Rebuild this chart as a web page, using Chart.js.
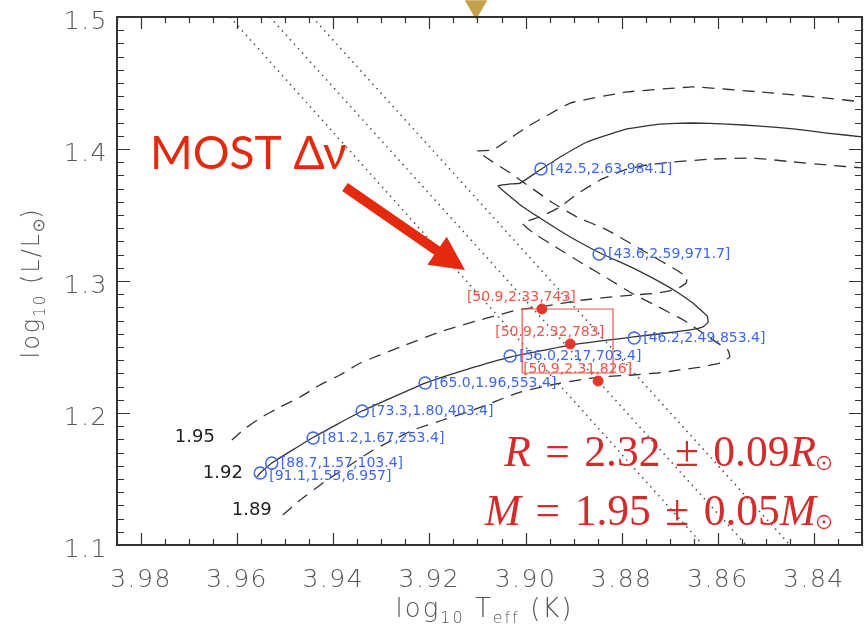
<!DOCTYPE html>
<html>
<head>
<meta charset="utf-8">
<script src="https://cdn.jsdelivr.net/npm/chart.js@4.4.0/dist/chart.umd.min.js"></script>
<style>
  html, body { margin: 0; padding: 0; background: #fff; }
</style>
</head>
<body>
<canvas id="hr" width="864" height="631"></canvas>
<script>
var xTicks = [3.98, 3.96, 3.94, 3.92, 3.90, 3.88, 3.86, 3.84];
var yTicks = [1.1, 1.2, 1.3, 1.4, 1.5];

// 1.92 Msun track (solid)
var trk192T = [3.9559, 3.9552, 3.9528, 3.9444, 3.9340, 3.9209, 3.9120, 3.9032, 3.8907, 3.8776, 3.8706, 3.8658, 3.8631, 3.8620,
  3.8622, 3.8631, 3.8652, 3.8685, 3.8720, 3.8776, 3.8845, 3.8907, 3.8970, 3.9011, 3.9057,
  3.9032, 3.9011, 3.8970, 3.8928, 3.8872, 3.8789, 3.8720, 3.8652, 3.8581, 3.8512, 3.8443, 3.8373, 3.8298];
var trk192L = [1.1515, 1.1545, 1.1621, 1.1811, 1.2015, 1.2227, 1.2333, 1.2424, 1.2515, 1.2576, 1.2606, 1.2629, 1.2652, 1.2689,
  1.2735, 1.2765, 1.2833, 1.2917, 1.2992, 1.3098, 1.3212, 1.3333, 1.3477, 1.3576, 1.3720,
  1.3735, 1.3742, 1.3841, 1.3939, 1.4053, 1.4152, 1.4189, 1.4197, 1.4189, 1.4174, 1.4152, 1.4121, 1.4091];

// 1.95 Msun track (dashed, upper)
var trk195T = [3.9611, 3.9588, 3.9552, 3.9511, 3.9469, 3.9428, 3.9386, 3.9344, 3.9261, 3.9178, 3.9095, 3.9018, 3.8970, 3.8880,
  3.8803, 3.8724, 3.8685, 3.8666, 3.8664, 3.8693, 3.8747, 3.8830, 3.8893, 3.8943, 3.9032, 3.9068, 3.9101,
  3.9068, 3.9022, 3.8997, 3.8907, 3.8789, 3.8652, 3.8512, 3.8373, 3.8298];
var trk195L = [1.1795, 1.1871, 1.1962, 1.2045, 1.2121, 1.2212, 1.2288, 1.2379, 1.2500, 1.2614, 1.2705, 1.2780, 1.2803, 1.2856,
  1.2886, 1.2909, 1.2939, 1.2985, 1.3030, 1.3098, 1.3212, 1.3386, 1.3485, 1.3591, 1.3818, 1.3902, 1.3985,
  1.3992, 1.4106, 1.4167, 1.4348, 1.4432, 1.4470, 1.4432, 1.4386, 1.4356];

// 1.89 Msun track (dashed, lower)
var trk189T = [3.9505, 3.9469, 3.9413, 3.9371, 3.9317, 3.9234, 3.9172, 3.9109, 3.9011, 3.8928, 3.8845, 3.8776, 3.8726, 3.8679,
  3.8637, 3.8595, 3.8575, 3.8579, 3.8616, 3.8668, 3.8731, 3.8780, 3.8824, 3.8880, 3.8934, 3.8984, 3.9007,
  3.8970, 3.8928, 3.8893, 3.8845, 3.8789, 3.8747, 3.8693, 3.8610, 3.8527, 3.8443, 3.8373, 3.8298];
var trk189L = [1.1227, 1.1341, 1.1492, 1.1591, 1.1720, 1.1871, 1.1947, 1.2023, 1.2159, 1.2227, 1.2273, 1.2288, 1.2303, 1.2326,
  1.2348, 1.2379, 1.2424, 1.2477, 1.2568, 1.2697, 1.2818, 1.2909, 1.3008, 1.3129, 1.3250, 1.3364, 1.3439,
  1.3485, 1.3561, 1.3659, 1.3765, 1.3848, 1.3879, 1.3902, 1.3924, 1.3932, 1.3902, 1.3879, 1.3856];

var trkNames = ['1.95', '1.92', '1.89'];

// constant large separation lines (dotted)
var dnuT = [[3.9615, 3.8631], [3.9532, 3.8541], [3.9444, 3.8450]];
var dnuL = [1.5, 1.1];

// model points along the 1.92 track
var modT = [3.9552, 3.9528, 3.9442, 3.9340, 3.9209, 3.9032, 3.8774, 3.8847, 3.8968];
var modL = [1.1545, 1.1621, 1.1811, 1.2015, 1.2227, 1.2432, 1.2568, 1.3205, 1.3848];
var modLabels = ['[91.1,1.55,6.957]', '[88.7,1.57,103.4]', '[81.2,1.67,253.4]', '[73.3,1.80,403.4]',
  '[65.0,1.96,553.4]', '[56.0,2.17,703.4]', '[46.2,2.49,853.4]', '[43.6,2.59,971.7]', '[42.5,2.63,984.1]'];

// best fitting models
var fitT = [3.8966, 3.8907, 3.8849];
var fitL = [1.2788, 1.2523, 1.2242];
var fitLabels = ['[50.9,2.33,743]', '[50.9,2.32,783]', '[50.9,2.31,826]'];

// error box
var boxT = [3.9007, 3.8818, 3.8818, 3.9007, 3.9007];
var boxL = [1.2788, 1.2788, 1.2303, 1.2303, 1.2788];

// marker above the frame
var markT = [3.9103];
var markL = [1.5078];

var BLUE = '#3e66ec';
var RED = '#f0554a';
var DARK = '#333';

function pts(t, l) {
  return t.map(function (v, i) { return { x: v, y: l[i] }; });
}

function sun(c, x, y, r) {
  c.beginPath(); c.arc(x, y, r, 0, 2 * Math.PI); c.stroke();
  c.beginPath(); c.arc(x, y, Math.max(1.2, r * 0.22), 0, 2 * Math.PI); c.fill();
}

function richWidth(c, segs) {
  var w = 0;
  segs.forEach(function (s) {
    if (s.sun) { w += 2 * s.sun + 3; } else { c.font = s.f; w += c.measureText(s.t).width; }
  });
  return w;
}

function drawRich(c, segs, x, y, align) {
  var w = richWidth(c, segs);
  var cx = align === 'right' ? x - w : (align === 'center' ? x - w / 2 : x);
  c.textAlign = 'left';
  c.textBaseline = 'alphabetic';
  segs.forEach(function (s) {
    if (s.sun) {
      sun(c, cx + s.sun + 1.5, y + (s.dy || 0), s.sun);
      cx += 2 * s.sun + 3;
    } else {
      c.font = s.f;
      c.fillText(s.t, cx, y + (s.dy || 0));
      cx += c.measureText(s.t).width;
    }
  });
}

var frame = {
  id: 'frame',
  afterDatasetsDraw: function (chart) {
    var c = chart.ctx, a = chart.chartArea, xs = chart.scales.x, ys = chart.scales.y;
    var k, p, len;
    c.save();
    c.strokeStyle = DARK;
    c.lineWidth = 1.2;
    c.beginPath();
    for (k = Math.ceil(xs.min / 0.005 - 1e-6); k <= Math.floor(xs.max / 0.005 + 1e-6); k++) {
      p = Math.round(xs.getPixelForValue(k * 0.005)) + 0.5;
      len = k % 4 === 0 ? 12 : 6;
      c.moveTo(p, a.bottom); c.lineTo(p, a.bottom - len);
      c.moveTo(p, a.top); c.lineTo(p, a.top + len);
    }
    for (k = Math.ceil(ys.min / 0.01 - 1e-6); k <= Math.floor(ys.max / 0.01 + 1e-6); k++) {
      p = Math.round(ys.getPixelForValue(k * 0.01)) + 0.5;
      len = k % 10 === 0 ? 13 : 7;
      c.moveTo(a.left, p); c.lineTo(a.left + len, p);
      c.moveTo(a.right, p); c.lineTo(a.right - len, p);
    }
    c.stroke();
    c.lineWidth = 2;
    c.strokeRect(a.left, a.top, a.right - a.left, a.bottom - a.top);
    c.restore();
  }
};

var notes = {
  id: 'notes',
  afterDatasetsDraw: function (chart) {
    var c = chart.ctx, a = chart.chartArea, xs = chart.scales.x, ys = chart.scales.y;
    c.save();
    c.letterSpacing = '0px';
    c.textBaseline = 'middle';
    c.textAlign = 'left';

    c.font = '14px "DejaVu Sans"';
    c.fillStyle = BLUE;
    modLabels.forEach(function (s, i) {
      c.fillText(s, xs.getPixelForValue(modT[i]) + 9, ys.getPixelForValue(modL[i]) + (i === 0 ? 3 : 0));
    });

    c.fillStyle = RED;
    fitLabels.forEach(function (s, i) {
      c.fillText(s, xs.getPixelForValue(fitT[i]) - 75, ys.getPixelForValue(fitL[i]) - 12);
    });

    // track masses, next to the start of each track
    c.font = '18px "DejaVu Sans"';
    c.fillStyle = '#222';
    c.textAlign = 'right';
    var starts = [[trk195T[0], trk195L[0], -17, -3], [trk192T[0], trk192L[0], -14, -4], [trk189T[0], trk189L[0], -11, -5]];
    trkNames.forEach(function (s, i) {
      var st = starts[i];
      c.fillText(s, xs.getPixelForValue(st[0]) + st[2], ys.getPixelForValue(st[1]) + st[3]);
    });

    // MOST delta nu with arrow
    c.fillStyle = '#e4290f';
    c.textAlign = 'left';
    c.textBaseline = 'alphabetic';
    c.font = '46px Lato, "Open Sans", sans-serif';
    c.fillText('MOST \u0394\u03bd', a.left + 33, a.top + 152);

    var x0 = a.left + 228, y0 = a.top + 170, x1 = a.left + 348, y1 = a.top + 253;
    var ang = Math.atan2(y1 - y0, x1 - x0), hl = 34, hw = 17, sw = 5;
    var bx = x1 - hl * Math.cos(ang), by = y1 - hl * Math.sin(ang);
    var nx = -Math.sin(ang), ny = Math.cos(ang);
    c.beginPath();
    c.moveTo(x0 + nx * sw, y0 + ny * sw);
    c.lineTo(bx + nx * sw, by + ny * sw);
    c.lineTo(bx + nx * hw, by + ny * hw);
    c.lineTo(x1, y1);
    c.lineTo(bx - nx * hw, by - ny * hw);
    c.lineTo(bx - nx * sw, by - ny * sw);
    c.lineTo(x0 - nx * sw, y0 - ny * sw);
    c.closePath();
    c.fill();

    // radius and mass results
    c.fillStyle = '#d42b2b';
    c.strokeStyle = '#d42b2b';
    c.lineWidth = 1.3;
    var it = 'italic 43.5px "Liberation Serif", serif', rm = '43.5px "Liberation Serif", serif';
    var sp = '\u2004';
    drawRich(c, [{ t: 'R', f: it }, { t: sp + '=' + sp + '2.32' + sp + '\u00b1' + sp + '0.09', f: rm }, { t: 'R', f: it }, { sun: 6.5, dy: -3 }],
      a.right - 30, a.bottom - 79, 'right');
    drawRich(c, [{ t: 'M', f: it }, { t: sp + '=' + sp + '1.95' + sp + '\u00b1' + sp + '0.05', f: rm }, { t: 'M', f: it }, { sun: 6.5, dy: -3 }],
      a.right - 30, a.bottom - 20, 'right');
    c.restore();
  }
};

var titles = {
  id: 'titles',
  afterDraw: function (chart) {
    var c = chart.ctx, a = chart.chartArea;
    c.save();
    c.letterSpacing = '2px';
    c.fillStyle = '#555';
    c.strokeStyle = '#555';
    c.lineWidth = 1.2;
    var bigX = '200 26px "DejaVu Sans"', smallX = '200 16px "DejaVu Sans"';
    drawRich(c, [{ t: 'log', f: bigX }, { t: '10', f: smallX, dy: 6 }, { t: ' T', f: bigX }, { t: 'eff', f: smallX, dy: 6 }, { t: ' (K)', f: bigX }],
      (a.left + a.right) / 2 - 5, 617, 'center');
    var bigY = '200 24px "DejaVu Sans"', smallY = '200 15px "DejaVu Sans"';
    c.translate(39, (a.top + a.bottom) / 2 + 2);
    c.rotate(-Math.PI / 2);
    drawRich(c, [{ t: 'log', f: bigY }, { t: '10', f: smallY, dy: 6 }, { t: ' (L/L', f: bigY }, { sun: 5, dy: 0 }, { t: ')', f: bigY }],
      0, 0, 'center');
    c.restore();
  }
};

var spacing = {
  id: 'spacing',
  beforeDraw: function (chart) { chart.ctx.letterSpacing = '1.5px'; }
};

new Chart(document.getElementById('hr'), {
  type: 'scatter',
  data: {
    datasets: [
      { data: pts(markT, markL), pointStyle: 'triangle', rotation: 180, pointRadius: 13, backgroundColor: '#c4a04c', borderWidth: 0, clip: false },
      { data: pts(fitT, fitL), pointRadius: 5, backgroundColor: '#e0392b', borderColor: '#e0392b', borderWidth: 1 },
      { data: pts(modT, modL), pointRadius: 6, backgroundColor: 'rgba(0,0,0,0)', borderColor: BLUE, borderWidth: 1.5 },
      { data: pts(boxT, boxL), showLine: true, pointRadius: 0, borderColor: RED, borderWidth: 1.2 },
      { data: pts(trk192T, trk192L), showLine: true, pointRadius: 0, borderColor: DARK, borderWidth: 1.3, tension: 0.1 },
      { data: pts(trk195T, trk195L), showLine: true, pointRadius: 0, borderColor: DARK, borderWidth: 1.3, borderDash: [12, 8], tension: 0.1 },
      { data: pts(trk189T, trk189L), showLine: true, pointRadius: 0, borderColor: DARK, borderWidth: 1.3, borderDash: [12, 8], tension: 0.1 },
      { data: pts(dnuT[0], dnuL), showLine: true, pointRadius: 0, borderColor: '#555', borderWidth: 1.6, borderDash: [1.5, 4.5] },
      { data: pts(dnuT[1], dnuL), showLine: true, pointRadius: 0, borderColor: '#555', borderWidth: 1.6, borderDash: [1.5, 4.5] },
      { data: pts(dnuT[2], dnuL), showLine: true, pointRadius: 0, borderColor: '#555', borderWidth: 1.6, borderDash: [1.5, 4.5] }
    ]
  },
  options: {
    responsive: false,
    animation: false,
    devicePixelRatio: 1,
    events: [],
    layout: { autoPadding: false, padding: { top: 17, right: 2, left: 0, bottom: 0 } },
    plugins: { legend: { display: false }, tooltip: { enabled: false } },
    scales: {
      x: {
        type: 'linear', reverse: true, min: 3.83, max: 3.985,
        afterBuildTicks: function (s) { s.ticks = xTicks.map(function (v) { return { value: v }; }); },
        afterFit: function (s) { s.height = 86; s.paddingLeft = 0; s.paddingRight = 0; },
        grid: { display: false, drawTicks: false }, border: { display: false },
        ticks: {
          padding: 20, color: '#555', maxRotation: 0, autoSkip: false,
          font: { family: 'DejaVu Sans', size: 25, weight: '200' },
          callback: function (v) { return v.toFixed(2); }
        }
      },
      y: {
        type: 'linear', min: 1.1, max: 1.5,
        afterBuildTicks: function (s) { s.ticks = yTicks.map(function (v) { return { value: v }; }); },
        afterFit: function (s) { s.width = 117; s.paddingTop = 0; s.paddingBottom = 0; },
        grid: { display: false, drawTicks: false }, border: { display: false },
        ticks: {
          padding: 9, color: '#555', labelOffset: 5,
          font: { family: 'DejaVu Sans', size: 25, weight: '200' },
          callback: function (v) { return v.toFixed(1); }
        }
      }
    }
  },
  plugins: [spacing, frame, notes, titles]
});
</script>
</body>
</html>
